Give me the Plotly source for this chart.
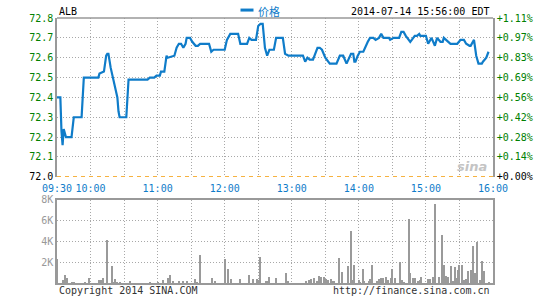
import plotly.graph_objects as go

DAY = "2014-07-14 "
symbol = "ALB"
stamp = "2014-07-14 15:56:00 EDT"
prev_close = 72.0

price_times = ["09:30","09:33","09:34","09:35","09:36","09:37","09:38","09:43","09:44","09:45","09:52","09:53","09:54",
 "10:07","10:08","10:12","10:13","10:14","10:15","10:16","10:18","10:20","10:22","10:24","10:25","10:26","10:32","10:33","10:34",
 "10:51","10:53","10:57","10:59","11:02","11:03","11:06","11:08","11:09","11:15","11:17","11:19","11:21","11:23","11:25","11:26",
 "11:29","11:31","11:34","11:36","11:38","11:46","11:48","11:50","12:00","12:02","12:05","12:12","12:14","12:20","12:22","12:24",
 "12:28","12:30","12:32","12:34","12:36","12:38","12:40","12:44","12:46","12:52","12:54","12:57","13:10","13:12","13:14","13:16",
 "13:19","13:23","13:25","13:27","13:30","13:34","13:40","13:43","13:46","13:49","13:53","13:55","13:56","13:57","13:59","14:01",
 "14:04","14:06","14:08","14:10","14:13","14:15","14:18","14:20","14:22","14:27","14:28","14:31","14:36","14:38","14:40","14:42",
 "14:46","14:50","14:52","14:54","14:55","15:00","15:02","15:05","15:08","15:10","15:13","15:15","15:16","15:20","15:22","15:28",
 "15:31","15:34","15:36","15:39","15:40","15:43","15:45","15:47","15:50","15:51","15:54","15:56"]
prices = [72.40,72.40,72.23,72.16,72.24,72.21,72.20,72.20,72.26,72.30,72.30,72.45,72.50,
 72.50,72.52,72.53,72.57,72.61,72.62,72.62,72.55,72.50,72.44,72.40,72.33,72.30,72.30,72.40,72.49,
 72.49,72.50,72.50,72.51,72.51,72.53,72.53,72.61,72.60,72.61,72.65,72.67,72.67,72.65,72.67,72.70,
 72.70,72.68,72.66,72.66,72.67,72.67,72.63,72.64,72.64,72.69,72.72,72.72,72.67,72.67,72.70,72.69,
 72.69,72.76,72.77,72.77,72.65,72.61,72.64,72.64,72.70,72.70,72.62,72.61,72.61,72.58,72.60,72.59,
 72.59,72.65,72.65,72.64,72.60,72.57,72.57,72.61,72.61,72.57,72.62,72.62,72.58,72.58,72.61,72.63,
 72.63,72.66,72.68,72.70,72.70,72.69,72.70,72.72,72.70,72.70,72.69,72.70,72.70,72.73,72.73,72.71,
 72.68,72.71,72.71,72.72,72.71,72.71,72.67,72.70,72.66,72.70,72.68,72.68,72.70,72.68,72.67,72.67,
 72.69,72.69,72.67,72.66,72.66,72.69,72.61,72.57,72.57,72.58,72.60,72.63]

vol_times = ["09:30","09:35","09:37","09:39","09:43","09:45","09:55","09:59","10:08","10:09","10:11","10:15","10:19","10:21",
 "10:22","10:24","10:26","10:35","10:53","11:00","11:05","11:09","11:11","11:14","11:19","11:23","11:26","11:33","11:35","11:38",
 "11:49","11:51","12:00","12:03","12:06","12:14","12:22","12:25","12:29","12:30","12:32","12:37","12:38","12:40","12:46","12:55",
 "12:57","13:13","13:15","13:17","13:20","13:23","13:24","13:26","13:29","13:31","13:32","13:35","13:36","13:38","13:42","13:45",
 "13:50","13:53","13:54","13:56","14:00","14:01","14:04","14:05","14:09","14:10","14:12","14:16","14:18","14:20","14:22","14:24",
 "14:26","14:29","14:30","14:32","14:37","14:39","14:40","14:45","14:46","14:48","14:50","14:53","14:55","14:56","15:02","15:04",
 "15:06","15:08","15:12","15:14","15:16","15:18","15:20","15:22","15:24","15:26","15:28","15:29","15:30","15:32","15:34","15:36",
 "15:38","15:40","15:42","15:44","15:46","15:48","15:50","15:52","15:56"]
volumes = [2300,300,800,500,150,150,150,500,300,300,500,4200,1700,150,
 400,150,150,200,150,150,300,500,800,200,200,200,200,400,150,2700,
 500,250,2300,1400,400,400,850,400,400,350,2500,200,200,600,500,1000,
 200,200,300,400,500,200,700,650,600,400,300,400,200,200,2400,1050,
 1650,5000,300,1800,300,150,1400,200,200,400,1750,200,400,500,500,600,
 300,500,1400,500,2050,300,150,6200,950,500,500,200,300,600,400,400,
 600,7600,650,4600,1800,700,600,1700,250,1600,500,1300,1800,1800,300,400,
 1150,1300,3600,1000,4000,300,2100,1150,150]

price_ticks = [72.0,72.1,72.2,72.3,72.4,72.5,72.6,72.7,72.8]
vol_ticks = [2000,4000,6000,8000]
vol_labels = ["2K","4K","6K","8K"]
time_ticks = ["09:30","10:00","10:30","11:00","11:30","12:00","12:30","13:00","13:30","14:00","14:30","15:00","15:30","16:00"]
time_labels = ["09:30","10:00","","11:00","","12:00","","13:00","","14:00","","15:00","","16:00"]

MONO = "DejaVu Sans Mono"
BLUE = "#0f7cc9"
GREEN = "#008000"
GRID = "#a8a8a8"
FRAME = "#999999"
DOT = "1px,2px"

left_text = [f"<span style='color:#000'>{v:.1f}</span>" if v == prev_close else f"{v:.1f}" for v in price_ticks]
right_text = []
for v in price_ticks:
    pct = (v - prev_close) / prev_close * 100
    s = f"+{pct:.2f}%"
    right_text.append(f"<span style='color:#000'>{s}</span>" if v == prev_close else s)

fig = go.Figure()
fig.add_trace(go.Scatter(x=[DAY + t for t in price_times], y=prices, mode="lines",
                         line=dict(color=BLUE, width=2.2), xaxis="x", yaxis="y", showlegend=False))
fig.add_trace(go.Scatter(x=[DAY + t for t in price_times], y=prices, mode="lines",
                         line=dict(color="rgba(0,0,0,0)", width=0), xaxis="x", yaxis="y3", showlegend=False,
                         hoverinfo="skip"))
fig.add_trace(go.Bar(x=[DAY + t for t in vol_times], y=volumes, width=55000,
                     marker=dict(color="#9a9a9a", line=dict(width=0)), xaxis="x2", yaxis="y2", showlegend=False))

xr = [DAY + "09:30", DAY + "16:00"]
tv = [DAY + t for t in time_ticks]
common_x = dict(type="date", range=xr, tickvals=tv, showgrid=True, gridcolor=GRID, griddash=DOT,
                gridwidth=1, zeroline=False, fixedrange=True)

P_DOM = [0.4007, 1.0]
V_DOM = [0.0, 0.3146]

fig.update_layout(
    width=545, height=300,
    margin=dict(l=57, r=52, t=18, b=15),
    paper_bgcolor="white", plot_bgcolor="white",
    font=dict(family=MONO, size=10, color="#000"),
    xaxis=dict(**common_x, domain=[0, 1], anchor="y", ticktext=time_labels,
               tickfont=dict(family=MONO, size=10, color=BLUE), showline=False, ticks="",
               ticklabelstandoff=4),
    yaxis=dict(domain=P_DOM, range=[72.0, 72.8], tickvals=price_ticks, ticktext=left_text,
               tickfont=dict(family=MONO, size=10, color=GREEN), showgrid=True, gridcolor=GRID,
               griddash=DOT, zeroline=False, showline=True, linecolor=FRAME, linewidth=1.5, ticks=""),
    yaxis3=dict(overlaying="y", side="right", range=[72.0, 72.8], tickvals=price_ticks, ticktext=right_text,
                tickfont=dict(family=MONO, size=10, color=GREEN), showgrid=False, zeroline=False,
                showline=True, linecolor=FRAME, linewidth=1.5, ticks="", anchor="x"),
    xaxis2=dict(**common_x, domain=[0, 1], anchor="y2", showticklabels=False, ticktext=time_labels,
                showline=True, mirror=True, linecolor=FRAME, linewidth=1.5, ticks=""),
    yaxis2=dict(domain=V_DOM, range=[0, 8000], tickvals=vol_ticks, ticktext=vol_labels,
                tickfont=dict(family=MONO, size=10, color="#999999"), showgrid=True, gridcolor=GRID,
                griddash=DOT, zeroline=False, showline=True, mirror=True, linecolor=FRAME,
                linewidth=1.5, ticks=""),
    bargap=0,
)

# frame top of price panel and previous-close line
fig.add_shape(type="line", xref="x domain", yref="y domain", x0=0, x1=1, y0=1, y1=1,
              line=dict(color=FRAME, width=1.5))
fig.add_shape(type="line", xref="x domain", yref="y", x0=0, x1=1, y0=prev_close, y1=prev_close,
              line=dict(color="#f39800", width=1.5, dash="4px,4px"))

# legend marker
fig.add_shape(type="line", xref="paper", yref="paper", x0=(240.5 - 57) / 436, x1=(253.5 - 57) / 436,
              y0=(285 - 10) / 267, y1=(285 - 10) / 267, line=dict(color=BLUE, width=3))

ann = [
    dict(text=symbol, x=0, y=(285 - 11) / 267, xanchor="left", yanchor="middle",
         font=dict(family=MONO, size=10, color="#000")),
    dict(text="价格", x=(256 - 57) / 436, y=(285 - 11) / 267, xanchor="left", yanchor="middle",
         font=dict(family="Noto Sans CJK SC", size=11, color=BLUE)),
    dict(text=stamp, x=(491 - 57) / 436, y=(285 - 11) / 267, xanchor="right", yanchor="middle",
         font=dict(family=MONO, size=10, color="#000")),
    dict(text="Copyright 2014 SINA.COM", x=0, y=(285 - 293) / 267, xanchor="left", yanchor="middle",
         font=dict(family=MONO, size=10, color="#333")),
    dict(text="http://finance.sina.com.cn", x=(492 - 57) / 436, y=(285 - 293) / 267, xanchor="right",
         yanchor="middle", font=dict(family=MONO, size=10, color="#333")),
    dict(text="<b><i>sina</i></b>", x=(489 - 57) / 436, y=(285 - 168) / 267, xanchor="right",
         yanchor="middle", font=dict(family="DejaVu Sans", size=13, color="#c4c4c4")),
]
for a in ann:
    a.update(xref="paper", yref="paper", showarrow=False)
fig.update_layout(annotations=ann)

fig.write_html("out.html")
